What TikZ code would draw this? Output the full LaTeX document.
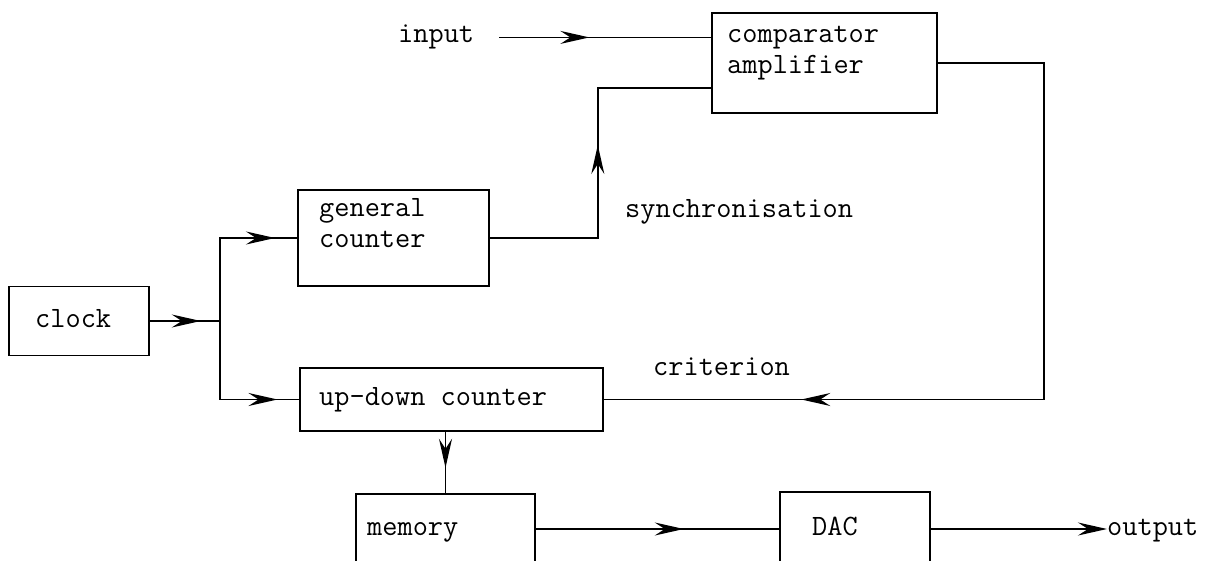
\documentclass[tikz,border=0pt]{standalone}
\usepackage{fontspec}
\usetikzlibrary{arrows.meta,decorations.markings,positioning}

\tikzset{
  blk/.style={draw,line width=1.6pt,inner sep=0pt},
  lbl/.style={inner sep=0pt,anchor=base west,align=left,
    font=\ttfamily\fontsize{29.5}{31.5}\selectfont},
  flow/.style={line width=1.6pt},
  barb/.tip={Stealth[length=29pt,width=13pt,inset=10pt]},
  arrowat/.style={postaction={decorate,decoration={markings,
    mark=at position #1 with {\arrow{barb}}}}},
}

\begin{document}
\begin{tikzpicture}[x=1pt,y=-1pt]
	\clip (0,0) rectangle (1210,561);
	\node[blk,minimum width=140,minimum height=69] (clk) at (79,321) {};
	\node[blk,minimum width=191,minimum height=96] (gen) at (393.5,238) {};
	\node[blk,minimum width=303,minimum height=63] (udc) at (451.5,399.5) {};
	\node[blk,minimum width=225,minimum height=100] (cmp) at (824.5,63) {};
	\node[blk,minimum width=179,minimum height=70] (mem) at (445.5,529) {};
	\node[blk,minimum width=150,minimum height=74] (dac) at (855,529) {};
	\node[lbl] (clkt) at (35,327) {clock};
	\node[lbl] (gent) at (319,248) {general\\counter};
	\node[lbl] (udct) at (319,405) {up-down counter};
	\node[lbl] (cmpt) at (727,74) {comparator\\amplifier};
	\node[lbl] (memt) at (367,535) {memory};
	\node[lbl] (dact) at (812,535) {DAC};
	\node[lbl] (inp) at (398,43) {input};
	\node[lbl] (sync) at (625,218) {synchronisation};
	\node[lbl] (crit) at (653,375) {criterion};
	\node[lbl] (out) at (1107,535) {output};
	\coordinate (split) at (220,321);
	\draw[flow,arrowat=51pt] (clk.east) -- (split);
	\draw[flow,arrowat=138pt] (split) |- (gen.west);
	\draw[flow,arrowat=136pt] (split) |- (udc.west);
	\draw[flow,arrowat=201pt] (gen.east) -- ++(108,0) |- ([yshift=-25pt]cmp.west);
	\draw[flow,arrowat=90pt] ([xshift=25pt]inp.east) -- (inp.east -| cmp.west);
	\draw[flow,arrowat=685pt] (cmp.east) -- ++(106,0) |- (udc.east);
	\draw[flow,arrowat=36pt] (mem.north |- udc.south) -- (mem.north);
	\draw[flow,arrowat=148pt] (mem.east) -- (dac.west);
	\draw[flow,-barb] (dac.east) -- (dac.east -| out.west);
\end{tikzpicture}
\end{document}
